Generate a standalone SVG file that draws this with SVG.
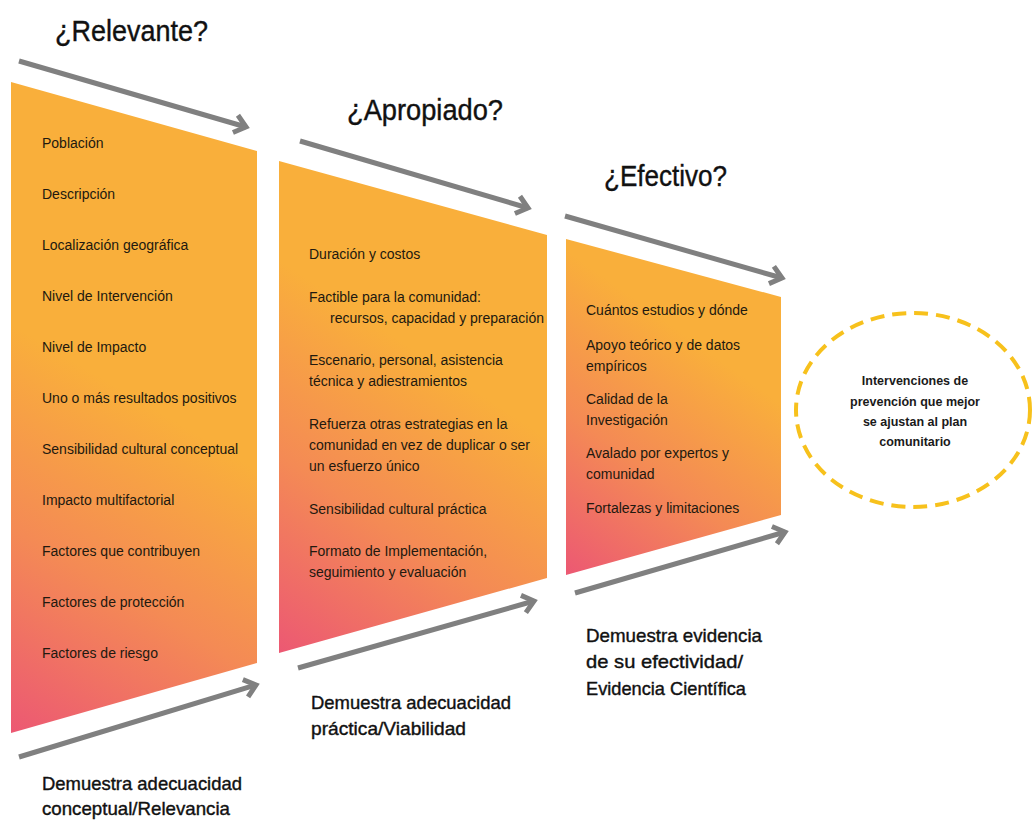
<svg xmlns="http://www.w3.org/2000/svg" width="1034" height="822" viewBox="0 0 1034 822">
<style>
.item{font-family:"Liberation Sans",Arial,sans-serif;font-size:14px;fill:#22190f}
.title{font-family:"Liberation Sans",Arial,sans-serif;font-size:30px;fill:#111;stroke:#111;stroke-width:0.4}
.label{font-family:"Liberation Sans",Arial,sans-serif;font-size:19px;fill:#111;stroke:#111;stroke-width:0.4}
.ctext{font-family:"Liberation Sans",Arial,sans-serif;font-size:12.5px;font-weight:bold;fill:#1a1a1a;text-anchor:middle}
.arrow{stroke:#808080;stroke-width:5;fill:none;marker-end:url(#chev)}
</style>
<defs>
<marker id="chev" markerUnits="userSpaceOnUse" viewBox="-16 -12 20 24" refX="0" refY="0" markerWidth="20" markerHeight="24" orient="auto" overflow="visible">
<path d="M-11,-9 L0,0 L-11,9" fill="none" stroke="#808080" stroke-width="5" stroke-linejoin="miter"/>
</marker>
<linearGradient id="g1" gradientUnits="userSpaceOnUse" x1="11" y1="733" x2="190" y2="430">
<stop offset="0" stop-color="#EC5873"/><stop offset="0.5" stop-color="#F48A55"/><stop offset="1" stop-color="#F9AF3B"/>
</linearGradient>
<linearGradient id="g2" gradientUnits="userSpaceOnUse" x1="279" y1="653" x2="460" y2="380">
<stop offset="0" stop-color="#EC5873"/><stop offset="0.5" stop-color="#F48A55"/><stop offset="1" stop-color="#F9AF3B"/>
</linearGradient>
<linearGradient id="g3" gradientUnits="userSpaceOnUse" x1="566" y1="575" x2="720" y2="360">
<stop offset="0" stop-color="#EC5873"/><stop offset="0.5" stop-color="#F48A55"/><stop offset="1" stop-color="#F9AF3B"/>
</linearGradient>
</defs>

<g id="connectors">
<line class="arrow" x1="19" y1="61" x2="246" y2="127"/>
<line class="arrow" x1="19" y1="757" x2="256" y2="685"/>
<line class="arrow" x1="300" y1="141" x2="528" y2="208"/>
<line class="arrow" x1="298" y1="668" x2="534" y2="601"/>
<line class="arrow" x1="565" y1="216" x2="782" y2="278"/>
<line class="arrow" x1="575" y1="593" x2="785" y2="532"/>
</g>

<g id="title-relevante"><text class="title" x="55" y="41" textLength="153" lengthAdjust="spacingAndGlyphs">¿Relevante?</text></g>
<g id="title-apropiado"><text class="title" x="347" y="120" textLength="156" lengthAdjust="spacingAndGlyphs">¿Apropiado?</text></g>
<g id="title-efectivo"><text class="title" x="604" y="186" textLength="123" lengthAdjust="spacingAndGlyphs">¿Efectivo?</text></g>

<g id="panel-relevante">
<polygon points="11,82 257,151 257,663 11,733" fill="url(#g1)"/>
<text class="item" x="42" y="148">Población</text>
<text class="item" x="42" y="199">Descripción</text>
<text class="item" x="42" y="250">Localización geográfica</text>
<text class="item" x="42" y="301">Nivel de Intervención</text>
<text class="item" x="42" y="352">Nivel de Impacto</text>
<text class="item" x="42" y="403">Uno o más resultados positivos</text>
<text class="item" x="42" y="454">Sensibilidad cultural conceptual</text>
<text class="item" x="42" y="505">Impacto multifactorial</text>
<text class="item" x="42" y="556">Factores que contribuyen</text>
<text class="item" x="42" y="607">Factores de protección</text>
<text class="item" x="42" y="658">Factores de riesgo</text>
</g>

<g id="panel-apropiado">
<polygon points="279,161 547,235 547,578 279,653" fill="url(#g2)"/>
<text class="item" x="309" y="259">Duración y costos</text>
<text class="item" x="309" y="302">Factible para la comunidad:</text>
<text class="item" x="330" y="323">recursos, capacidad y preparación</text>
<text class="item" x="309" y="365">Escenario, personal, asistencia</text>
<text class="item" x="309" y="386">técnica y adiestramientos</text>
<text class="item" x="309" y="429">Refuerza otras estrategias en la</text>
<text class="item" x="309" y="450">comunidad en vez de duplicar o ser</text>
<text class="item" x="309" y="471">un esfuerzo único</text>
<text class="item" x="309" y="514">Sensibilidad cultural práctica</text>
<text class="item" x="309" y="556">Formato de Implementación,</text>
<text class="item" x="309" y="577">seguimiento y evaluación</text>
</g>

<g id="panel-efectivo">
<polygon points="566,239 781,297 781,515 566,575" fill="url(#g3)"/>
<text class="item" x="586" y="315">Cuántos estudios y dónde</text>
<text class="item" x="586" y="350">Apoyo teórico y de datos</text>
<text class="item" x="586" y="371">empíricos</text>
<text class="item" x="586" y="404">Calidad de la</text>
<text class="item" x="586" y="425">Investigación</text>
<text class="item" x="586" y="458">Avalado por expertos y</text>
<text class="item" x="586" y="479">comunidad</text>
<text class="item" x="586" y="513">Fortalezas y limitaciones</text>
</g>

<g id="outcome">
<ellipse cx="913" cy="410" rx="117" ry="97" fill="none" stroke="#F7C11C" stroke-width="4" stroke-dasharray="14 8"/>
<text class="ctext" x="915" y="385">Intervenciones de</text>
<text class="ctext" x="915" y="406">prevención que mejor</text>
<text class="ctext" x="915" y="426">se ajustan al plan</text>
<text class="ctext" x="915" y="446">comunitario</text>
</g>

<g id="label-relevancia">
<text class="label" x="42" y="790" textLength="200" lengthAdjust="spacingAndGlyphs">Demuestra adecuacidad</text>
<text class="label" x="42" y="815" textLength="188" lengthAdjust="spacingAndGlyphs">conceptual/Relevancia</text>
</g>
<g id="label-viabilidad">
<text class="label" x="311" y="709" textLength="200" lengthAdjust="spacingAndGlyphs">Demuestra adecuacidad</text>
<text class="label" x="311" y="735" textLength="155" lengthAdjust="spacingAndGlyphs">práctica/Viabilidad</text>
</g>
<g id="label-evidencia">
<text class="label" x="586" y="642" textLength="176" lengthAdjust="spacingAndGlyphs">Demuestra evidencia</text>
<text class="label" x="586" y="668" textLength="157" lengthAdjust="spacingAndGlyphs">de su efectividad/</text>
<text class="label" x="586" y="695" textLength="160" lengthAdjust="spacingAndGlyphs">Evidencia Científica</text>
</g>
</svg>
